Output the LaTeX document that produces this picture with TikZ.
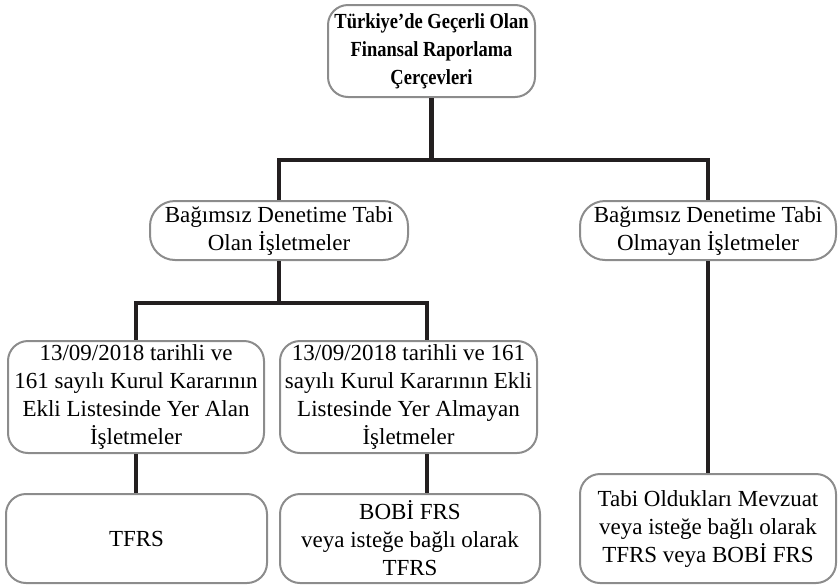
\documentclass[tikz,border=0pt]{standalone}
\usepackage{fontspec}
\usepackage{graphicx}
\setmainfont{Liberation Serif}
\usetikzlibrary{calc}
\definecolor{boxgray}{HTML}{8C8C8C}
\definecolor{linedark}{HTML}{231F20}
\tikzset{
  box/.style={draw=boxgray, line width=2pt, rounded corners=20pt, rectangle,
    align=center, inner sep=0pt, font=\fontsize{23}{28}\selectfont, text=black},
  conn/.style={draw=linedark, line width=4.5pt, line join=miter, line cap=butt},
}
\begin{document}
\begin{tikzpicture}[x=1pt,y=-1pt]
\useasboundingbox (0,0) rectangle (840,587);
\node[box, minimum width=207pt, minimum height=92pt, font=\bfseries\fontsize{21.5}{28}\selectfont] (top) at (431.5,51) {\scalebox{0.86}[1]{\begin{tabular}{@{}c@{}}Türkiye’de Geçerli Olan\\Finansal Raporlama\\Çerçevleri\end{tabular}}};
\node[box, minimum width=258pt, minimum height=59pt, rounded corners=25pt] (midL) at (279,230.5) {Bağımsız Denetime Tabi\\Olan İşletmeler};
\node[box, minimum width=256pt, minimum height=59pt, rounded corners=25pt] (midR) at (708,230.5) {Bağımsız Denetime Tabi\\Olmayan İşletmeler};
\node[box, minimum width=256pt, minimum height=112pt] (r3L) at (136,397) {13/09/2018 tarihli ve\\161 sayılı Kurul Kararının\\Ekli Listesinde Yer Alan\\İşletmeler};
\node[box, minimum width=257pt, minimum height=112pt] (r3M) at (408.5,397) {13/09/2018 tarihli ve 161\\sayılı Kurul Kararının Ekli\\Listesinde Yer Almayan\\İşletmeler};
\node[box, minimum width=261pt, minimum height=89pt] (r4L) at (136.5,538.5) {TFRS};
\node[box, minimum width=260pt, minimum height=89pt] (r4M) at (410,538.5) {BOBİ FRS\\veya isteğe bağlı olarak\\TFRS};
\node[box, minimum width=256pt, minimum height=109pt] (r4R) at (708,528.5) {Tabi Oldukları Mevzuat\\veya isteğe bağlı olarak\\TFRS veya BOBİ FRS};
\coordinate (j1) at ($(top.south)+(0,62)$);
\coordinate (j2) at ($(midL.south)+(0,42)$);
\coordinate (r3Mtop) at ($(r3M.north)+(18.5,0)$);
\coordinate (r3Mbot) at ($(r3M.south)+(18.5,0)$);
\draw[conn] (top.south) -- (j1);
\draw[conn] (midL.north) |- (j1) -| (midR.north);
\draw[conn] (midL.south) -- (j2);
\draw[conn] (r3L.north) |- (j2) -| (r3Mtop);
\draw[conn] (r3L.south) -- (r3L.south |- r4L.north);
\draw[conn] (r3Mbot) -- (r3Mbot |- r4M.north);
\draw[conn] (midR.south) -- (r4R.north);
\end{tikzpicture}
\end{document}
